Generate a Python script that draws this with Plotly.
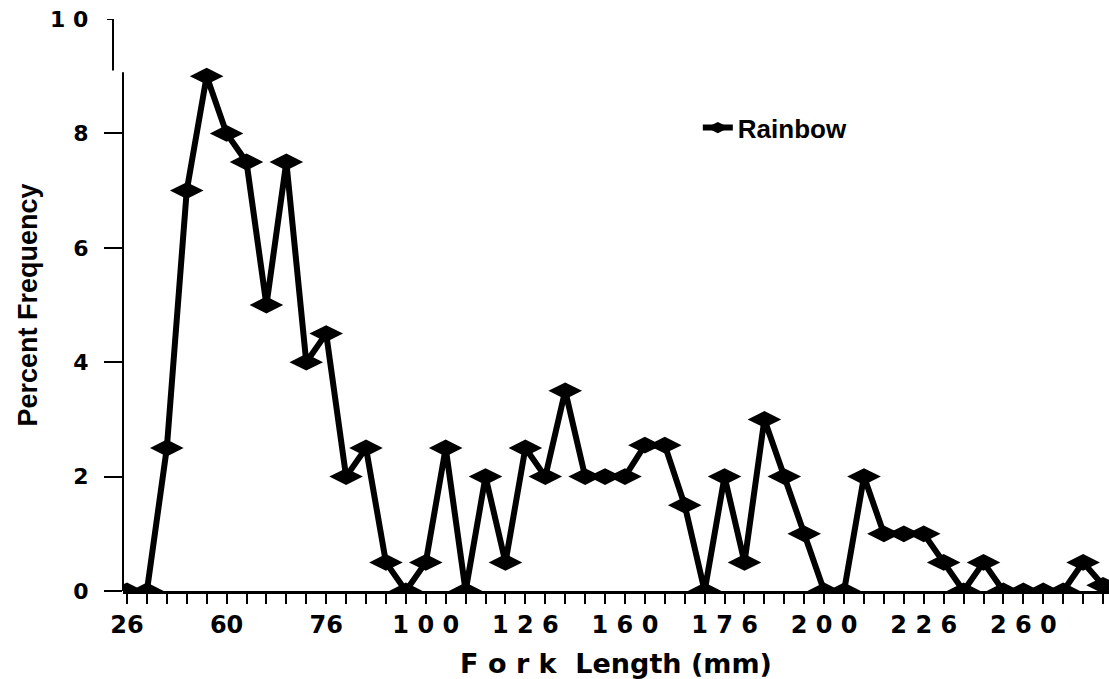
import plotly.graph_objects as go

fork_length = [25, 30, 35, 40, 45, 50, 55, 60, 65, 70,
               75, 80, 85, 90, 95, 100, 105, 110, 115, 120,
               125, 130, 135, 140, 145, 150, 155, 160, 165, 170,
               175, 180, 185, 190, 195, 200, 205, 210, 215, 220,
               225, 230, 235, 240, 245, 250, 255, 260, 265, 270]
rainbow = [0, 0, 2.5, 7, 9, 8, 7.5, 5, 7.5, 4,
           4.5, 2, 2.5, 0.5, 0, 0.5, 2.5, 0, 2, 0.5,
           2.5, 2, 3.5, 2, 2, 2, 2.55, 2.55, 1.5, 0,
           2, 0.5, 3, 2, 1, 0, 0, 2, 1, 1,
           1, 0.5, 0, 0.5, 0, 0, 0, 0, 0.5, 0.1]
x_tick_vals = [25, 50, 75, 100, 125, 150, 175, 200, 225, 250]
x_tick_text = ["26", "60", "76", "1 0 0", "1 2 6", "1 6 0", "1 7 6", "2 0 0", "2 2 6", "2 6 0"]
y_tick_vals = [0, 2, 4, 6, 8]
y_tick_text = ["0", "2", "4", "6", "8"]

heavy = "DejaVu Sans"

fig = go.Figure()
fig.add_trace(go.Scatter(
    x=fork_length, y=rainbow, mode="lines+markers", name="Rainbow",
    line=dict(color="black", width=6),
    marker=dict(symbol="diamond-wide", size=24, color="black"),
))

all_vals = fork_length
all_text = [x_tick_text[x_tick_vals.index(v)] if v in x_tick_vals else "" for v in all_vals]

fig.update_layout(
    width=1109, height=679,
    margin=dict(l=123, r=0, t=19, b=88),
    paper_bgcolor="white", plot_bgcolor="white",
    showlegend=True,
    legend=dict(x=0.583, y=0.81, xanchor="left", yanchor="middle",
                font=dict(family="Liberation Sans", size=26, color="black", weight="bold"),
                bgcolor="rgba(0,0,0,0)", itemwidth=30),
    xaxis=dict(range=[24, 271.5], tickmode="array", tickvals=all_vals, ticktext=all_text,
               ticks="outside", ticklen=10, tickwidth=2, tickcolor="black",
               showline=True, linecolor="black", linewidth=3, showgrid=False, zeroline=False,
               tickfont=dict(family=heavy, size=24, color="black", weight="bold"),
               title=dict(text="F o r k  Length (mm)", standoff=17,
                          font=dict(family=heavy, size=27, color="black", weight="bold"))),
    yaxis=dict(range=[0, 10], tickmode="array", tickvals=y_tick_vals, ticktext=y_tick_text,
               ticks="outside", ticklen=18, tickwidth=2, tickcolor="black",
               showline=False, showgrid=False, zeroline=False,
               ticklabelstandoff=11,
               tickfont=dict(family=heavy, size=22, color="black", weight="bold"),
               title=dict(text="Percent Frequency", standoff=27,
                          font=dict(family="Liberation Sans Narrow, Liberation Sans", size=27,
                                    color="black", weight="bold"))),
)

fig.add_shape(type="line", xref="paper", yref="y", x0=0, x1=0, y0=0, y1=9.07,
              line=dict(color="black", width=2))
off = -10 / 986
fig.add_shape(type="line", xref="paper", yref="y", x0=off, x1=off, y0=9.1, y1=10,
              line=dict(color="black", width=2))
fig.add_shape(type="line", xref="paper", yref="y", x0=off - 6 / 986, x1=off, y0=10, y1=10,
              line=dict(color="black", width=2))
fig.add_annotation(text="1 0", xref="paper", yref="y", x=-33 / 986, y=10, xanchor="right",
                   yanchor="middle", showarrow=False,
                   font=dict(family=heavy, size=22, color="black", weight="bold"))

fig.write_html("out.html")
